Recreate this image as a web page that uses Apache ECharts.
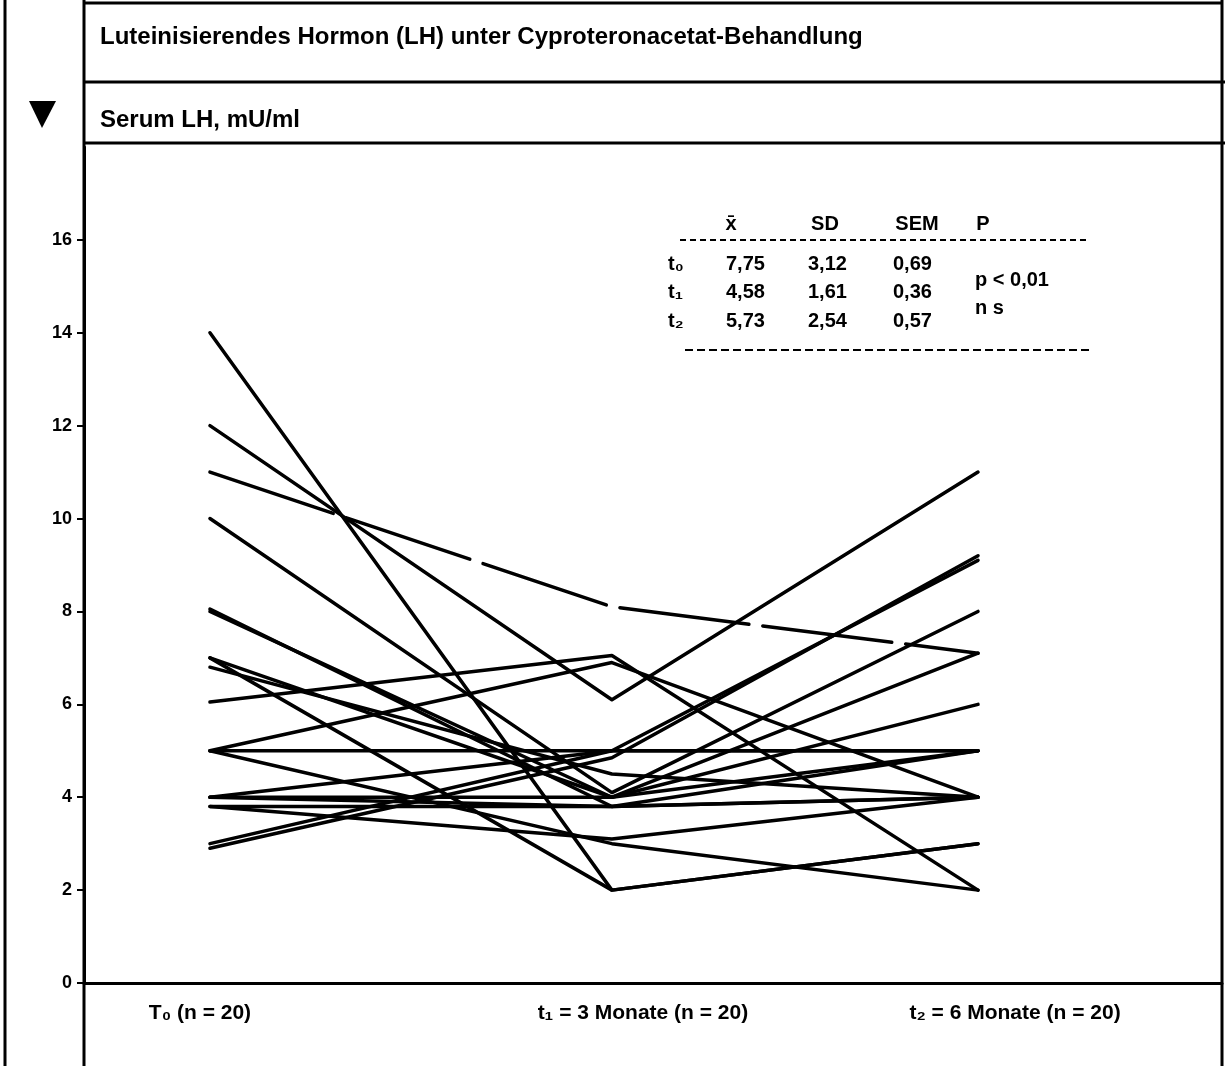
<!DOCTYPE html>
<html>
<head>
<meta charset="utf-8">
<script src="https://cdn.jsdelivr.net/npm/echarts@6/dist/echarts.min.js"></script>
<style>
html,body{margin:0;padding:0;background:#fff;}
#chart{width:1225px;height:1066px;}
</style>
</head>
<body>
<div id="chart"></div>
<script>
// ---- data ----
const categories = ['T₀ (n = 20)', 't₁ = 3 Monate (n = 20)', 't₂ = 6 Monate (n = 20)'];
const timePoints = [0, 3.14, 6];
const yTicks = [0, 2, 4, 6, 8, 10, 12, 14, 16];
// serum LH (mU/ml) per patient at the three time points
const t0Values = [14, 12, 11, 10, 8, 8.05, 7, 7, 6.8, 6.05, 5, 5, 5, 4, 4, 3.8, 3, 2.9, 3.8, 4];
const t1Values = [2, 6.1, 8.1, 4.1, 4.0, 3.8, 2.0, 4.0, 4.5, 7.05, 6.9, 5, 3.0, 3.8, 4.0, 3.8, 5.0, 4.85, 3.1, 5.0];
const t2Values = [3, 11, 7.1, 8, 6, 5, 3, 7.1, 4, 2, 4, 5, 2, 4, 5, 4, 9.1, 9.2, 4, 5];
const dashedPatient = 2;
// statistics table
const statLabels = ['t₀', 't₁', 't₂'];
const statMean = ['7,75', '4,58', '5,73'];
const statSD = ['3,12', '1,61', '2,54'];
const statSEM = ['0,69', '0,36', '0,57'];
const statHeader = ['x̄', 'SD', 'SEM', 'P'];
const statP = ['p < 0,01', 'n s'];

const FONT = '"Liberation Sans", Arial, sans-serif';

const series = t0Values.map((v, i) => ({
  type: 'line',
  data: [[timePoints[0], v], [timePoints[1], t1Values[i]], [timePoints[2], t2Values[i]]],
  symbol: 'none',
  smooth: false,
  silent: true,
  lineStyle: {
    color: '#000',
    width: 3.5,
    type: i === dashedPatient ? [130, 14] : 'solid',
    cap: 'round',
    join: 'round'
  }
}));

const graphic = [
  {type:'line', shape:{x1:5,y1:0,x2:5,y2:1066}, style:{stroke:'#000',lineWidth:3}},
  {type:'line', shape:{x1:84,y1:0,x2:84,y2:1066}, style:{stroke:'#000',lineWidth:3}},
  {type:'line', shape:{x1:84,y1:3,x2:1222,y2:3}, style:{stroke:'#000',lineWidth:3}},
  {type:'line', shape:{x1:84,y1:82,x2:1225,y2:82}, style:{stroke:'#000',lineWidth:3}},
  {type:'line', shape:{x1:84,y1:143,x2:1225,y2:143}, style:{stroke:'#000',lineWidth:3}},
  {type:'line', shape:{x1:1222,y1:0,x2:1222,y2:1066}, style:{stroke:'#000',lineWidth:3}},
  {type:'polygon', shape:{points:[[29,101],[56,101],[42,128]]}, style:{fill:'#000'}},
  {type:'text', x:100, y:37, style:{text:'Luteinisierendes Hormon (LH) unter Cyproteronacetat-Behandlung', font:'bold 24px ' + FONT, fill:'#000', textVerticalAlign:'middle'}},
  {type:'text', x:100, y:120, style:{text:'Serum LH, mU/ml', font:'bold 24px ' + FONT, fill:'#000', textVerticalAlign:'middle'}},
  // table rules
  {type:'line', shape:{x1:680,y1:240,x2:1090,y2:240}, style:{stroke:'#000',lineWidth:2,lineDash:[6,4]}},
  {type:'line', shape:{x1:685,y1:350,x2:1090,y2:350}, style:{stroke:'#000',lineWidth:2,lineDash:[8,4]}}
];
const TF = 'bold 20px ' + FONT;
const headerX = [731, 825, 917, 983];
statHeader.forEach((h, i) => graphic.push({type:'text', x:headerX[i], y:224, style:{text:h, font:TF, fill:'#000', textAlign:'center', textVerticalAlign:'middle'}}));
const rowY = [264, 292, 321];
statLabels.forEach((l, r) => {
  graphic.push({type:'text', x:668, y:rowY[r], style:{text:l, font:TF, fill:'#000', textVerticalAlign:'middle'}});
  graphic.push({type:'text', x:726, y:rowY[r], style:{text:statMean[r], font:TF, fill:'#000', textVerticalAlign:'middle'}});
  graphic.push({type:'text', x:808, y:rowY[r], style:{text:statSD[r], font:TF, fill:'#000', textVerticalAlign:'middle'}});
  graphic.push({type:'text', x:893, y:rowY[r], style:{text:statSEM[r], font:TF, fill:'#000', textVerticalAlign:'middle'}});
});
graphic.push({type:'text', x:975, y:280, style:{text:statP[0], font:TF, fill:'#000', textVerticalAlign:'middle'}});
graphic.push({type:'text', x:975, y:308, style:{text:statP[1], font:TF, fill:'#000', textVerticalAlign:'middle'}});

const richBase = {fontSize: 21, fontWeight: 'bold', fontFamily: FONT, color: '#000'};

const chart = echarts.init(document.getElementById('chart'), null, {renderer:'canvas'});
chart.setOption({
  backgroundColor: '#fff',
  animation: false,
  grid: {left: 84, right: 3, top: 147, bottom: 83, containLabel: false},
  xAxis: {
    type: 'value',
    min: -0.984,
    max: 7.906,
    splitLine: {show: false},
    axisLine: {show: true, onZero: false, lineStyle: {color: '#000', width: 3}},
    axisTick: {show: false},
    axisLabel: {
      show: true,
      customValues: timePoints,
      margin: 20,
      formatter: function (val) {
        const idx = timePoints.findIndex(t => Math.abs(t - val) < 1e-6);
        return idx < 0 ? '' : '{l' + idx + '|' + categories[idx] + '}';
      },
      rich: {
        l0: Object.assign({padding: [0, 20, 0, 0]}, richBase),
        l1: Object.assign({padding: [0, 0, 0, 62]}, richBase),
        l2: Object.assign({padding: [0, 0, 0, 74]}, richBase)
      }
    }
  },
  yAxis: {
    type: 'value',
    min: 0,
    max: 18,
    interval: 2,
    splitLine: {show: false},
    axisLine: {show: true, onZero: false, lineStyle: {color: '#000', width: 3}},
    axisTick: {show: true, customValues: yTicks, length: 7, lineStyle: {color: '#000', width: 2}},
    axisLabel: {
      customValues: yTicks,
      margin: 12,
      color: '#000',
      fontSize: 18,
      fontWeight: 'bold',
      fontFamily: FONT
    }
  },
  series: series,
  graphic: graphic
});
</script>
</body>
</html>
